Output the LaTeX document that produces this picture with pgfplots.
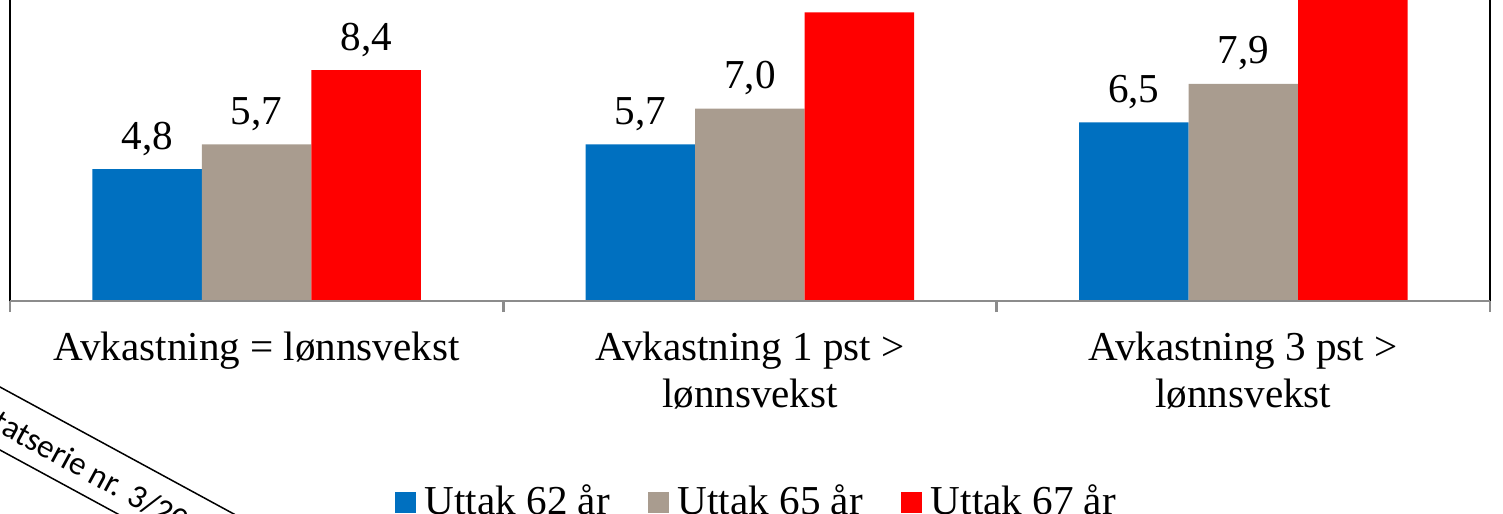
\documentclass[border=0pt]{standalone}
\usepackage{graphicx}
\usepackage{pgfplots}
\pgfplotsset{compat=1.18}
\usepackage{fontspec}
\setmainfont{Liberation Serif}
\newfontfamily\stampfont{Carlito}
\definecolor{cblue}{HTML}{0070C0}
\definecolor{cgray}{HTML}{A99C8F}
\definecolor{cred}{HTML}{FF0000}
\definecolor{axgray}{HTML}{8C8C8C}
\begin{document}
\begin{tikzpicture}[font=\fontsize{11.7}{13.4}\selectfont]
\useasboundingbox (0,0) rectangle (150.3mm,51.3mm);
\clip (0,0) rectangle (150.3mm,51.3mm);
\begin{axis}[
  at={(1mm,21.2mm)}, anchor=south west,
  scale only axis, width=148mm, height=33mm,
  xmin=-0.5, xmax=2.5, ymin=0, ymax=12,
  clip=false,
  axis line style={draw=none},
  ytick=\empty,
  xtick={0,1,2},
  xticklabels={Avkastning = lønnsvekst, {Avkastning 1 pst >\\lønnsvekst}, {Avkastning 3 pst >\\lønnsvekst}},
  xticklabel style={align=center, anchor=north, inner sep=0pt, yshift=-3.05mm},
  major tick length=0pt,
  minor xtick={-0.5,0.5,1.5,2.5},
  minor tick length=1.1mm,
  tick align=outside,
  minor tick style={axgray, line width=0.25mm},
  ybar=0pt, bar width=10.95mm,
  nodes near coords,
  every node near coord/.append style={anchor=base, yshift=2mm, inner sep=0pt, text=black},
  /pgf/number format/use comma,
  /pgf/number format/fixed,
  /pgf/number format/fixed zerofill,
  /pgf/number format/precision=1,
  /pgf/number format/assume math mode=true,
  legend style={at={(0.506,-0.61)}, anchor=center, draw=none, fill=none, legend columns=3,
    /tikz/every odd column/.append style={column sep=0.2mm},
    /tikz/every even column/.append style={column sep=3.1mm}},
  legend image code/.code={\fill[#1] (0mm,-1.05mm) rectangle (2.1mm,1.05mm);},
]
\addplot[fill=cblue, draw=none] coordinates {(0,4.8) (1,5.7) (2,6.5)};
\addlegendentry{Uttak 62 år}
\addplot[fill=cgray, draw=none] coordinates {(0,5.7) (1,7.0) (2,7.9)};
\addlegendentry{Uttak 65 år}
\addplot[fill=cred, draw=none] coordinates {(0,8.4) (1,10.5) (2,12.8)};
\addlegendentry{Uttak 67 år}
\draw[black, line width=0.2mm] (rel axis cs:0,0) -- (rel axis cs:0,1.2);
\draw[black, line width=0.2mm] (rel axis cs:1,0) -- (rel axis cs:1,1.2);
\draw[axgray, line width=0.25mm] (rel axis cs:0,0) -- (rel axis cs:1,0);
\end{axis}
\begin{scope}[shift={(0,51.3mm)}, x=0.1mm, y=-0.1mm]
\draw[line width=0.15mm] (-100,332.7) -- (400,604.2);
\draw[line width=0.15mm] (-100,395.7) -- (400,667.2);
\node[font=\stampfont\fontsize{9.4}{10}\selectfont, rotate=-28.5, anchor=base west, inner sep=0pt] at (-44,410) {Notatserie nr. 3/2011};
\end{scope}
\end{tikzpicture}
\end{document}
